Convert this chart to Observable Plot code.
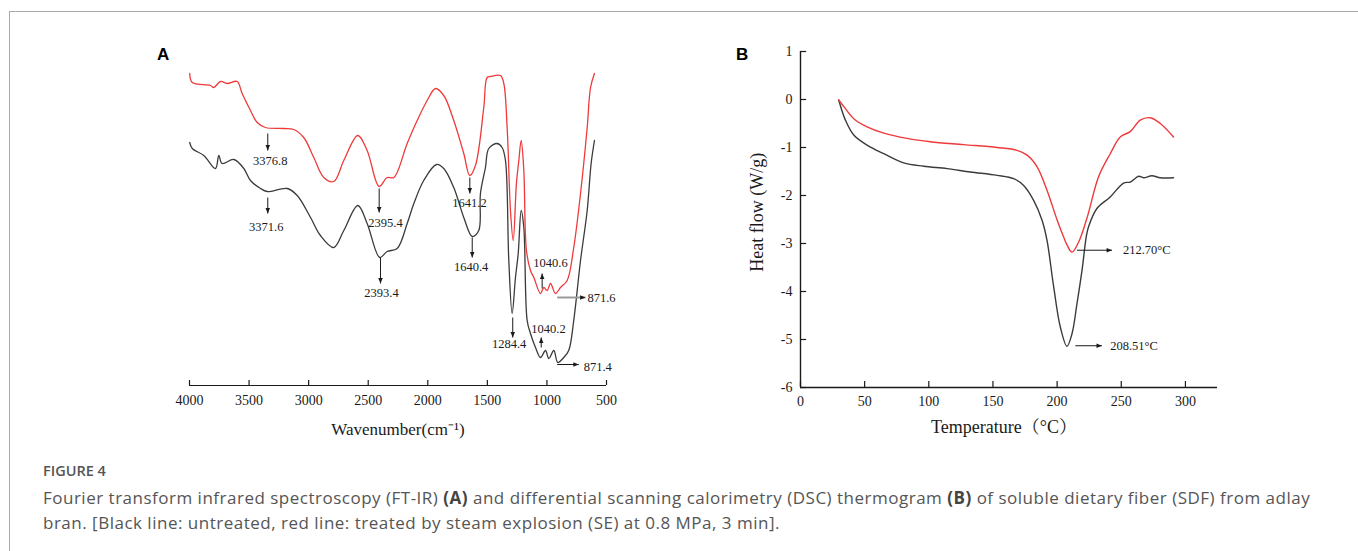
<!DOCTYPE html>
<html><head><meta charset="utf-8">
<script src="https://cdn.jsdelivr.net/npm/d3@7"></script>
<script src="https://cdn.jsdelivr.net/npm/@observablehq/plot@0.6"></script>
<style>
body{margin:0;background:#fff;}
#root{position:relative;width:1358px;height:551px;overflow:hidden;background:#fff;}
#frame{position:absolute;left:9px;top:11px;right:-5px;bottom:-5px;border-top:1.5px solid #aaa;border-left:1.5px solid #aaa;}
.panel{position:absolute;}
.plabel{position:absolute;font-family:"Liberation Sans",Arial,sans-serif;font-weight:bold;font-size:17px;line-height:17px;color:#000;}
#figno{position:absolute;left:43px;top:464px;font-family:"Open Sans",sans-serif;font-weight:600;font-size:14.5px;line-height:14px;color:#555;}
#cap{position:absolute;left:43px;top:485px;font-family:"Open Sans",sans-serif;font-size:17px;letter-spacing:0.5px;line-height:25px;color:#555;white-space:nowrap;}
#cap b{font-weight:700;color:#444;}
</style>
</head><body>
<div id="root">
  <div id="frame"></div>
  <div class="plabel" style="left:157px;top:46px">A</div>
  <div class="plabel" style="left:736px;top:46px">B</div>
  <div id="panelA" class="panel" style="left:150px;top:40px"></div>
  <div id="panelB" class="panel" style="left:730px;top:40px"></div>
  <div id="figno">FIGURE 4</div>
  <div id="cap">Fourier transform infrared spectroscopy (FT-IR) <b>(A)</b> and differential scanning calorimetry (DSC) thermogram <b>(B)</b> of soluble dietary fiber (SDF) from adlay<br>bran. [Black line: untreated, red line: treated by steam explosion (SE) at 0.8 MPa, 3 min].</div>
</div>
<script>
// ---------- Panel A: FT-IR (arbitrary transmittance units) ----------
const wnTicks = [4000, 3500, 3000, 2500, 2000, 1500, 1000, 500];

const seWn = [3998,3977,3824,3796,3740,3684,3600,3558,3488,3432,3362,3209,3125,3041,2957,2873,2789,2705,2587,2509,2408,2341,2285,2173,2089,2005,1935,1866,1782,1698,1648,1600,1530,1502,1474,1390,1362,1334,1306,1283,1256,1236,1216,1194,1172,1138,1110,1054,1026,998,970,928,886,830,775,718,662,634,601];
const seT  = [312,303,300,298,304,302,304,292,275,263,258,257,256,248,228,208,204,225,250,235,199,208,208,242,265,285,297,290,265,232,210,220,278,308,309,310,302,258,175,145,202,225,245,215,135,115,108,92,98,95,102,92,98,105,138,192,258,298,312];

const rawWn = [3998,3977,3880,3782,3754,3726,3628,3544,3488,3404,3348,3180,3096,2984,2901,2789,2705,2587,2509,2403,2341,2257,2173,2117,2034,1927,1866,1782,1698,1627,1572,1558,1516,1488,1418,1376,1348,1320,1292,1264,1241,1216,1194,1166,1138,1096,1054,1012,984,942,909,859,817,775,718,662,629,601];
const rawT  = [243,237,230,217,230,222,226,217,205,197,194,197,190,168,150,138,155,180,162,128,134,137,162,182,205,221,217,198,168,149,155,192,218,237,242,238,225,125,72,108,132,175,158,65,52,38,28,35,27,35,23,28,35,65,125,175,222,245];

// peak annotations: arrow tail (x1,y1) -> tip (x2,y2), label position (lx,ly)
const annA = [
  {label:"3376.8", x1:3343, y1:252, x2:3343, y2:235, lx:3322, ly:225, dir:"down", anchor:"middle"},
  {label:"3371.6", x1:3343, y1:188, x2:3343, y2:172, lx:3356, ly:159, dir:"down", anchor:"middle"},
  {label:"2395.4", x1:2408, y1:197, x2:2408, y2:173, lx:2355, ly:163, dir:"down", anchor:"middle"},
  {label:"2393.4", x1:2397, y1:128, x2:2397, y2:102, lx:2389, ly:93,  dir:"down", anchor:"middle"},
  {label:"1641.2", x1:1647, y1:208, x2:1647, y2:192, lx:1650, ly:183, dir:"down", anchor:"middle"},
  {label:"1640.4", x1:1627, y1:148, x2:1627, y2:128, lx:1636, ly:119, dir:"down", anchor:"middle"},
  {label:"1284.4", x1:1287, y1:68,  x2:1287, y2:48,  lx:1317, ly:42,  dir:"down", anchor:"middle"},
  {label:"1040.6", x1:1040, y1:97,  x2:1040, y2:112, lx:970,  ly:123, dir:"up",   anchor:"middle"},
  {label:"1040.2", x1:1048, y1:38,  x2:1048, y2:48,  lx:987,  ly:57,  dir:"up",   anchor:"middle"},
  {label:"871.6",  x1:914,  y1:88,  x2:676,  y2:88,  lx:660,  ly:88,  dir:"right",anchor:"start", gray:true},
  {label:"871.4",  x1:914,  y1:21,  x2:733,  y2:21,  lx:691,  ly:19,  dir:"right",anchor:"start"}
];

// ---------- Panel B: DSC ----------
const tempTicks = [0, 50, 100, 150, 200, 250, 300];
const heatTicks = [-6, -5, -4, -3, -2, -1, 0, 1];

const seTemp = [29.8,35,41.5,51.9,64.9,83.1,101.2,127.2,153.2,168.8,176.6,184.3,192.1,200,205,207.7,211.6,216.8,223.5,232.3,241.4,249.2,257,264.8,272.6,280.4,290.7];
const seHeat = [-0.01,-0.19,-0.40,-0.57,-0.70,-0.81,-0.88,-0.94,-1.0,-1.06,-1.16,-1.40,-1.89,-2.51,-2.86,-3.03,-3.18,-2.97,-2.45,-1.61,-1.13,-0.78,-0.67,-0.43,-0.38,-0.5,-0.78];

const rawTemp = [29.8,35,41.5,51.9,64.9,80.4,96,114.2,132.4,153.2,166.1,173.9,181.7,188.2,192.1,197.3,202.5,207.7,211.6,215.5,219.4,222.7,224.5,231,241.4,251.8,257,263.5,267.4,273.9,280.4,290.7];
const rawHeat = [-0.01,-0.43,-0.74,-0.95,-1.13,-1.32,-1.39,-1.44,-1.51,-1.58,-1.65,-1.79,-2.1,-2.51,-2.93,-3.9,-4.74,-5.14,-4.88,-4.25,-3.56,-2.86,-2.65,-2.27,-2.03,-1.74,-1.72,-1.6,-1.63,-1.59,-1.63,-1.63];

const annB = [
  {label:"212.70°C", x1:215.5, y1:-3.14, x2:242.8, y2:-3.14, lx:251.3, ly:-3.14},
  {label:"208.51°C", x1:214.2, y1:-5.13, x2:234.9, y2:-5.13, lx:241.4, ly:-5.13}
];

// ---------- styling ----------
const RED = "#ee3a3a", DARK = "#3b3b3b", INK = "#1a1a1a";
const SERIF = "'Liberation Serif','Times New Roman','Noto Serif CJK SC','Noto Sans CJK SC',serif";

const head = (f) => ({draw(ctx, size){ const r = Math.sqrt(size/Math.PI); f(ctx, r*1.8, r*0.75); }});
const headDown  = head((c,L,W)=>{c.moveTo(0,0); c.lineTo(-W,-L); c.lineTo(W,-L); c.closePath();});
const headUp    = head((c,L,W)=>{c.moveTo(0,0); c.lineTo(-W,L); c.lineTo(W,L); c.closePath();});
const headRight = head((c,L,W)=>{c.moveTo(0,0); c.lineTo(-L,-W); c.lineTo(-L,W); c.closePath();});

const seA  = seWn.map((w,i)=>({wn:w, t:seT[i]}));
const rawA = rawWn.map((w,i)=>({wn:w, t:rawT[i]}));

const chartA = Plot.plot({
  width: 480, height: 410,
  marginLeft: 39, marginRight: 24, marginTop: 15, marginBottom: 65,
  style: {fontFamily: SERIF, fontSize: "14px", color: INK, background: "transparent", overflow: "visible"},
  x: {domain: [4000, 500], ticks: wnTicks, tickSize: 0, tickPadding: 10, label: null, tickFormat: d => String(d)},
  y: {domain: [0, 330], axis: null},
  marks: [
    Plot.ruleY([0], {stroke: INK, strokeWidth: 1.2}),
    Plot.ruleX(wnTicks, {x: d => d, y1: 0, y2: 5, stroke: INK, strokeWidth: 1.2}),
    Plot.line(rawA, {x: "wn", y: "t", stroke: DARK, strokeWidth: 1.3, curve: "catmull-rom"}),
    Plot.line(seA,  {x: "wn", y: "t", stroke: RED,  strokeWidth: 1.3, curve: "catmull-rom"}),
    Plot.link(annA, {x1: "x1", y1: "y1", x2: "x2", y2: "y2", stroke: d => d.gray ? "#9a9a9a" : INK, strokeWidth: d => d.gray ? 2 : 1}),
    Plot.dot(annA, {filter: d => d.dir === "down",  x: "x2", y: "y2", r: 3, symbol: headDown,  fill: INK, stroke: "none"}),
    Plot.dot(annA, {filter: d => d.dir === "up",    x: "x2", y: "y2", r: 3, symbol: headUp,    fill: INK, stroke: "none"}),
    Plot.dot(annA, {filter: d => d.dir === "right", x: "x2", y: "y2", r: 3, symbol: headRight, fill: INK, stroke: "none"}),
    Plot.text(annA, {filter: d => d.anchor === "middle", x: "lx", y: "ly", text: "label", fontSize: 12.5, fill: INK}),
    Plot.text(annA, {filter: d => d.anchor === "start",  x: "lx", y: "ly", text: "label", fontSize: 12.5, fill: INK, textAnchor: "start"}),
    Plot.text(["Wavenumber(cm⁻¹)"], {text: d => d, frameAnchor: "bottom", dy: 49, fontSize: 17, fill: INK})
  ]
});
document.getElementById("panelA").appendChild(chartA);

const seB  = seTemp.map((t,i)=>({T:t, H:seHeat[i]}));
const rawB = rawTemp.map((t,i)=>({T:t, H:rawHeat[i]}));

const chartB = Plot.plot({
  width: 500, height: 410,
  marginLeft: 70, marginRight: 13, marginTop: 11, marginBottom: 63,
  style: {fontFamily: SERIF, fontSize: "14px", color: INK, background: "transparent", overflow: "visible"},
  x: {domain: [0, 325], ticks: tempTicks, tickSize: 0, tickPadding: 9, label: null, tickFormat: d => String(d)},
  y: {domain: [-6, 1], ticks: heatTicks, tickSize: 0, tickPadding: 8, label: null, tickFormat: d => d < 0 ? "-" + (-d) : String(d)},
  marks: [
    Plot.ruleY([-6], {stroke: INK, strokeWidth: 1.4}),
    Plot.ruleX([0], {stroke: INK, strokeWidth: 1.4}),
    Plot.ruleX(tempTicks, {x: d => d, y1: -6, y2: -5.875, stroke: INK, strokeWidth: 1.2}),
    Plot.ruleY(heatTicks, {y: d => d, x1: 0, x2: 4.8, stroke: INK, strokeWidth: 1.2}),
    Plot.line(rawB, {x: "T", y: "H", stroke: DARK, strokeWidth: 1.4, curve: "catmull-rom"}),
    Plot.line(seB,  {x: "T", y: "H", stroke: RED,  strokeWidth: 1.4, curve: "catmull-rom"}),
    Plot.link(annB, {x1: "x1", y1: "y1", x2: "x2", y2: "y2", stroke: INK, strokeWidth: 1}),
    Plot.dot(annB, {x: "x2", y: "y2", r: 3, symbol: headRight, fill: INK, stroke: "none"}),
    Plot.text(annB, {x: "lx", y: "ly", text: "label", fontSize: 12.5, fill: INK, textAnchor: "start"}),
    Plot.text(["Temperature（°C）"], {text: d => d, frameAnchor: "bottom", dx: -5, dy: 45, fontSize: 18, fill: INK}),
    Plot.text(["Heat flow (W/g)"], {text: d => d, x: () => -33.5, y: () => -2.35, rotate: -90, fontSize: 18, fill: INK})
  ]
});
document.getElementById("panelB").appendChild(chartB);
</script>
</body></html>
